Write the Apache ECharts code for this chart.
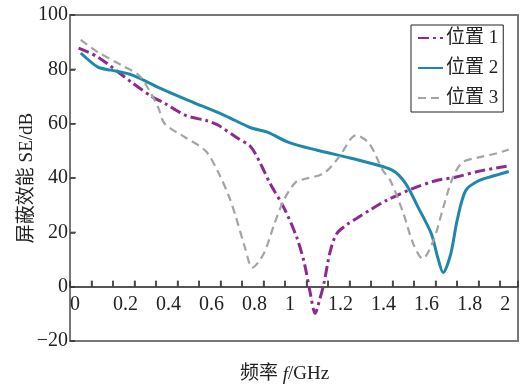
<!DOCTYPE html>
<html>
<head>
<meta charset="utf-8">
<script src="https://cdn.jsdelivr.net/npm/echarts@6/dist/echarts.min.js"></script>
<style>html,body{margin:0;padding:0;background:#fff;}#c{width:521px;height:385px;}</style>
</head>
<body>
<div id="c"></div>
<script>
var names = ['位置 1', '位置 2', '位置 3'];
var freq1 = [0.04,0.13,0.29,0.38,0.44,0.54,0.64,0.69,0.78,0.84,0.885,0.93,0.995,1.055,1.09,1.115,1.14,1.16,1.18,1.21,1.24,1.29,1.33,1.40,1.47,1.59,1.70,1.79,1.92,2.03];
var se1   = [87.8,84.5,75,70,67.5,63,61,59.4,54.6,51.5,45.4,38,29,18,8.5,-1.5,-9.8,-5,1,13,19.5,23,25,28.5,31.7,36,39,40.3,42.8,44.3];
var freq2 = [0.05,0.13,0.19,0.29,0.41,0.55,0.72,0.84,0.92,1.02,1.15,1.29,1.38,1.50,1.56,1.62,1.68,1.71,1.735,1.77,1.80,1.84,1.90,1.98,2.04];
var se2   = [86,80.8,79.7,77.9,73.4,68.6,63,58.5,56.8,53,50.2,47.6,45.8,42.8,38,29,19.5,10.7,5.2,12,24.4,35.4,39,41,42.4];
var freq3 = [0.05,0.13,0.24,0.32,0.36,0.41,0.44,0.535,0.63,0.69,0.74,0.77,0.815,0.848,0.90,0.95,0.995,1.05,1.10,1.18,1.25,1.33,1.39,1.455,1.49,1.55,1.595,1.64,1.69,1.735,1.78,1.825,1.90,1.98,2.04];
var se3   = [90.8,86.3,81.5,77.9,73.4,66,60,55,50,42,33,26,14,7,12,23,32,38.5,39.8,41.7,47.6,55.7,52.8,42.8,39,27,16,10.3,17,29,40.2,45.8,47.6,49,50.5];
var xTicks = [0,0.2,0.4,0.6,0.8,1,1.2,1.4,1.6,1.8,2];
var xMinorTicks = [0.1,0.2,0.3,0.4,0.5,0.6,0.7,0.8,0.9,1.0,1.1,1.2,1.3,1.4,1.5,1.6,1.7,1.8,1.9,2.0];
var yTicks = [-20,0,20,40,60,80,100];
var yTickMarks = [20,40,60,80];

function pairs(xs, ys){ return xs.map(function(x,i){ return [x, ys[i]]; }); }
var fontFam = '"Liberation Serif","Times New Roman","Noto Sans CJK SC",serif';
var chart = echarts.init(document.getElementById('c'), null, {renderer:'canvas'});
chart.setOption({
  animation: false,
  backgroundColor: '#fff',
  title: {
    text: '频率 {i|f}/GHz',
    left: 235, top: 360,
    textStyle: {
      fontFamily: fontFam, fontSize: 19, fontWeight: 'normal', color: '#222',
      rich: { i: { fontStyle: 'italic', fontFamily: fontFam, fontSize: 19, color: '#222' } }
    }
  },
  legend: {
    orient: 'vertical',
    left: 411, top: 25,
    padding: [3, 5, 4, 6],
    borderColor: '#222', borderWidth: 1,
    itemWidth: 25, itemHeight: 14, itemGap: 10,
    itemStyle: { opacity: 0 },
    textStyle: { fontFamily: fontFam, fontSize: 19, color: '#222', lineHeight: 20, padding: [0,0,0,-2] },
    data: names
  },
  grid: {
    left: 70, top: 15, width: 452, height: 326,
    show: true, borderColor: '#777', borderWidth: 2
  },
  xAxis: {
    type: 'value', min: 0, max: 2.083, interval: 0.1,
    offset: -54.3,
    axisLine: { onZero: false, lineStyle: { color: '#555', width: 2 } },
    axisTick: { show: true, inside: true, length: 6, lineStyle: { color: '#333', width: 1.5 } },
    splitLine: { show: false },
    axisLabel: {
      align: 'left', margin: 8, color: '#222', fontFamily: fontFam, fontSize: 20,
      formatter: function(v){
        var r = Math.round(v*10)/10;
        if (Math.abs(v - r) > 1e-6) return '';
        for (var k=0;k<xTicks.length;k++){ if (Math.abs(xTicks[k]-r)<1e-6) return String(xTicks[k]); }
        return '';
      }
    }
  },
  yAxis: {
    type: 'value', min: -20, max: 100, interval: 20,
    name: '屏蔽效能 SE/dB', nameLocation: 'middle', nameGap: 33, nameRotate: 90,
    nameMoveOverlap: false,
    nameTextStyle: { fontFamily: fontFam, fontSize: 19, color: '#222' },
    axisLine: { show: true, onZero: false, lineStyle: { color: '#777', width: 2 } },
    axisTick: { show: true, inside: true, length: 5, lineStyle: { color: '#333', width: 1.5 } },
    splitLine: { show: false },
    axisLabel: {
      margin: 2, color: '#222', fontFamily: fontFam, fontSize: 20,
      formatter: function(v){
        for (var k=0;k<yTicks.length;k++){ if (yTicks[k]===v) return v<0 ? '\u2212'+Math.abs(v) : String(v); }
        return '';
      }
    }
  },
  series: [
    { name: names[0], type: 'line', smooth: 0.3, symbol: 'none', data: pairs(freq1, se1),
      itemStyle: { color: '#8e2a8e' },
      lineStyle: { color: '#8e2a8e', width: 3, type: [11,4,3,4] } },
    { name: names[1], type: 'line', smooth: 0.3, symbol: 'none', data: pairs(freq2, se2),
      itemStyle: { color: '#1f88aa' },
      lineStyle: { color: '#1f88aa', width: 3 } },
    { name: names[2], type: 'line', smooth: 0.3, symbol: 'none', data: pairs(freq3, se3),
      itemStyle: { color: '#a4a4a4' },
      lineStyle: { color: '#a4a4a4', width: 2.2, type: [8,5] } },
    { name: 'xticks', type: 'scatter', silent: true, z: 5,
      symbol: 'rect', symbolSize: [1.5, 6], symbolOffset: [0, -3],
      itemStyle: { color: '#444' },
      data: xMinorTicks.map(function(x){ return [x, 0]; }) },
    { name: 'yticks', type: 'scatter', silent: true, z: 5,
      symbol: 'rect', symbolSize: [5, 1.5], symbolOffset: [3.5, 0],
      itemStyle: { color: '#444' },
      data: yTickMarks.map(function(y){ return [0, y]; }) }
  ]
});
</script>
</body>
</html>
